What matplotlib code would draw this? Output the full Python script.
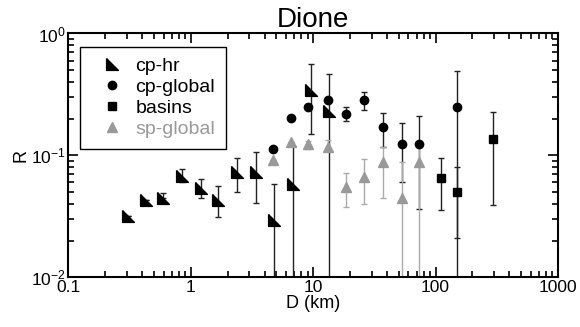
import matplotlib
matplotlib.use('Agg')
import matplotlib.pyplot as plt
from matplotlib.ticker import LogLocator, NullFormatter

plt.rcParams['font.family'] = ['Liberation Sans', 'DejaVu Sans']
plt.rcParams['mathtext.default'] = 'regular'

# cp-hr (high resolution crater counts)
cp_hr_D = [0.306, 0.426, 0.597, 0.851, 1.20, 1.67, 2.39, 3.38, 4.77, 6.87, 9.53, 13.4]
cp_hr_R = [0.0316, 0.0430, 0.0443, 0.0678, 0.0537, 0.0430, 0.0736, 0.0733, 0.0294, 0.0580, 0.346, 0.232]
cp_hr_lo = [0.0316, 0.0430, 0.0443, 0.0609, 0.0449, 0.0313, 0.0498, 0.0404, 0.001, 0.001, 0.149, 0.001]
cp_hr_hi = [0.0316, 0.0430, 0.0494, 0.0770, 0.0644, 0.0564, 0.0959, 0.106, 0.058, 0.120, 0.563, 0.466]

# cp-global
cp_gl_D = [4.66, 6.58, 9.1, 13.1, 18.4, 26.1, 37.3, 53.3, 73.5, 148.6]
cp_gl_R = [0.112, 0.202, 0.249, 0.283, 0.220, 0.286, 0.171, 0.124, 0.124, 0.248]
cp_gl_lo = [0.112, 0.202, 0.249, 0.283, 0.193, 0.237, 0.118, 0.061, 0.036, 0.001]
cp_gl_hi = [0.112, 0.202, 0.249, 0.283, 0.249, 0.331, 0.222, 0.184, 0.209, 0.490]

# basins
basins_D = [110, 149, 296]
basins_R = [0.0649, 0.0498, 0.136]
basins_lo = [0.0356, 0.0212, 0.039]
basins_hi = [0.0948, 0.080, 0.229]

# sp-global
sp_D = [4.66, 6.58, 9.1, 13.1, 18.4, 26.1, 37.3, 53.3, 73.5]
sp_R = [0.0918, 0.128, 0.124, 0.117, 0.0554, 0.0669, 0.0889, 0.0444, 0.0889]
sp_lo = [0.0918, 0.128, 0.112, 0.110, 0.0379, 0.0397, 0.0444, 0.001, 0.001]
sp_hi = [0.0918, 0.128, 0.132, 0.134, 0.0722, 0.0936, 0.118, 0.089, 0.120]

x_ticks = [0.1, 1, 10, 100, 1000]
x_tick_labels = ['0.1', '1', '10', '100', '1000']

fig = plt.figure(figsize=(5.8, 3.27), dpi=100)
ax = fig.add_axes([0.1181, 0.152, 0.8439, 0.7456])
ax.set_xscale('log')
ax.set_yscale('log')


def bars(D, R, lo, hi, color):
    err = [[r - l for r, l in zip(R, lo)], [h - r for r, h in zip(R, hi)]]
    ax.errorbar(D, R, yerr=err, fmt='none', ecolor=color, elinewidth=1.0,
                capsize=2.2, capthick=1.0)


bars(cp_hr_D, cp_hr_R, cp_hr_lo, cp_hr_hi, '#222222')
bars(cp_gl_D, cp_gl_R, cp_gl_lo, cp_gl_hi, '#222222')
bars(basins_D, basins_R, basins_lo, basins_hi, '#222222')
bars(sp_D, sp_R, sp_lo, sp_hi, '#aaaaaa')

tri = [(-1, 1), (-1, -1), (1, -1), (-1, 1)]
ax.plot(cp_hr_D, cp_hr_R, ls='none', marker=tri, ms=8.5, color='black', label='cp-hr')
ax.plot(cp_gl_D, cp_gl_R, ls='none', marker='o', ms=6, color='black', label='cp-global')
ax.plot(basins_D, basins_R, ls='none', marker='s', ms=6.3, color='black', label='basins')
ax.plot(sp_D, sp_R, ls='none', marker='^', ms=7, color='#999999', label='sp-global')

ax.set_xlim(0.1, 1000)
ax.set_ylim(0.01, 1)
ax.set_xticks(x_ticks)
ax.set_xticklabels(x_tick_labels)
ax.xaxis.set_minor_locator(LogLocator(base=10, subs=range(2, 10), numticks=20))
ax.yaxis.set_minor_locator(LogLocator(base=10, subs=range(2, 10), numticks=20))
ax.xaxis.set_minor_formatter(NullFormatter())
ax.yaxis.set_minor_formatter(NullFormatter())
ax.tick_params(which='both', direction='in', top=True, right=True, labelsize=12.5, width=1.2)
ax.tick_params(which='major', length=7, pad=2)
ax.tick_params(which='minor', length=4)
for s in ax.spines.values():
    s.set_linewidth(1.5)

ax.set_title('Dione', fontsize=20, pad=3)
ax.set_xlabel('D (km)', fontsize=13, labelpad=0)
ax.set_ylabel('R', fontsize=13, labelpad=1)

leg = ax.legend(loc='upper left', bbox_to_anchor=(0.0235, 0.945), borderaxespad=0,
                fontsize=14, labelspacing=0.17, borderpad=0.55, handlelength=2.2,
                handletextpad=0.1, fancybox=False, framealpha=1, edgecolor='black')
leg.get_frame().set_linewidth(1.0)
leg.get_texts()[3].set_color('#999999')

fig.savefig('out.png', dpi=100)
